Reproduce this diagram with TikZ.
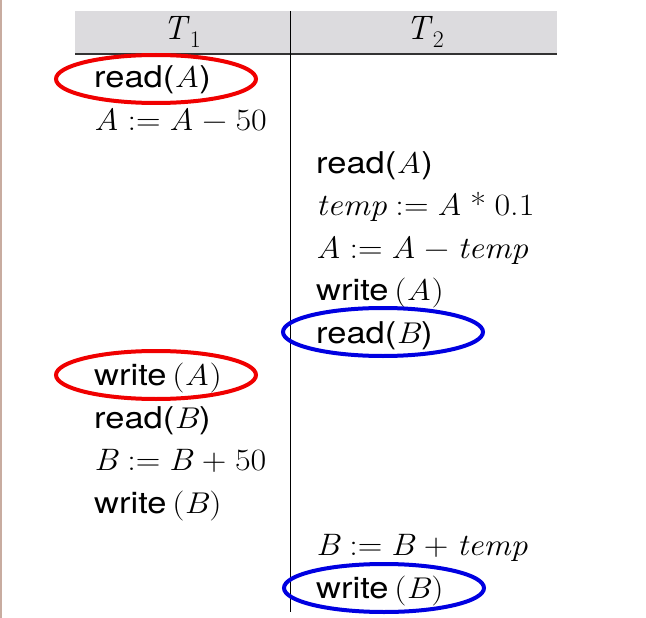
\documentclass[tikz,border=0pt]{standalone}
\usepackage{fontspec}
\setsansfont{TeX Gyre Heros}
\usetikzlibrary{shapes.geometric}
\definecolor{hdrgray}{RGB}{220,219,222}
\definecolor{edge}{RGB}{200,172,160}
\definecolor{ringred}{RGB}{240,0,0}
\definecolor{ringblue}{RGB}{0,0,225}
\newcommand\mysf[1]{\scalebox{1.15}[1]{\fontsize{30}{34}\selectfont #1}}
\newcommand\myse[1]{\scalebox{1.1}[1]{\fontsize{31}{34}\selectfont #1}}
\newcommand\myv[1]{\textit{#1}}
\newcommand\myrd[1]{\textsf{read(}\myv{#1}\textsf{)}}
\newcommand\mywr[1]{\textsf{write}\,(\myv{#1})}
\newcommand\myop[1]{\hspace{0.25em}#1\hspace{0.25em}}
\begin{document}
\begin{tikzpicture}[x=1pt,y=-1pt,
  txt/.style={anchor=base west, inner sep=0pt},
  hdr/.style={anchor=base, inner sep=0pt, font=\fontsize{34}{40}\selectfont},
  ring/.style={ellipse, draw, line width=4pt, minimum width=200pt, minimum height=48pt, inner sep=0pt}]
\useasboundingbox (0,0) rectangle (646,618);
\fill[white] (0,0) rectangle (646,618);
\fill[edge] (0,0) rectangle (2,618);
% header
\fill[hdrgray] (75,11) rectangle (557,54);
\draw[line width=2pt, black!80] (75,54) -- (557,54);
\coordinate (vtop) at (290.5,11);
\coordinate (vbot) at (290.5,612);
\draw[line width=1.2pt] (vtop) -- (vbot);
\node[hdr] (h1) at (182,40) {\myv{T}\textsubscript{1}};
\node[hdr] (h2) at (425,40) {\myv{T}\textsubscript{2}};
% left column
\node[txt] (a1) at (94,88)    {\mysf{\myrd{A}}};
\node[txt] (a2) at (94,130.5) {\myse{\myv{A}\myop{:=}\myv{A}\myop{−}50}};
\node[txt] (a8) at (94,385.5) {\mysf{\mywr{A}}};
\node[txt] (a9) at (94,428)   {\mysf{\myrd{B}}};
\node[txt] (a10) at (94,470.5) {\myse{\myv{B}\myop{:=}\myv{B}\myop{+}50}};
\node[txt] (a11) at (94,513)   {\mysf{\mywr{B}}};
% right column
\node[txt] (b3) at (316,173)   {\mysf{\myrd{A}}};
\node[txt] (b4) at (316,215.5) {\myse{\myv{temp}\myop{:=}\myv{A}\myop{*}0.1}};
\node[txt] (b5) at (316,258)   {\myse{\myv{A}\myop{:=}\myv{A}\myop{−}\myv{temp}}};
\node[txt] (b6) at (316,300.5) {\mysf{\mywr{A}}};
\node[txt] (b7) at (316,343)   {\mysf{\myrd{B}}};
\node[txt] (b12) at (316,555.5) {\myse{\myv{B}\myop{:=}\myv{B}\myop{+}\myv{temp}}};
\node[txt] (b13) at (316,598)   {\mysf{\mywr{B}}};
% rings
\node[ring, draw=ringred] (r1) at (156,79) {};
\node[ring, draw=ringred] (r2) at (156,375) {};
\node[ring, draw=ringblue] (r3) at (383,332) {};
\node[ring, draw=ringblue] (r4) at (384,588) {};
\end{tikzpicture}
\end{document}
